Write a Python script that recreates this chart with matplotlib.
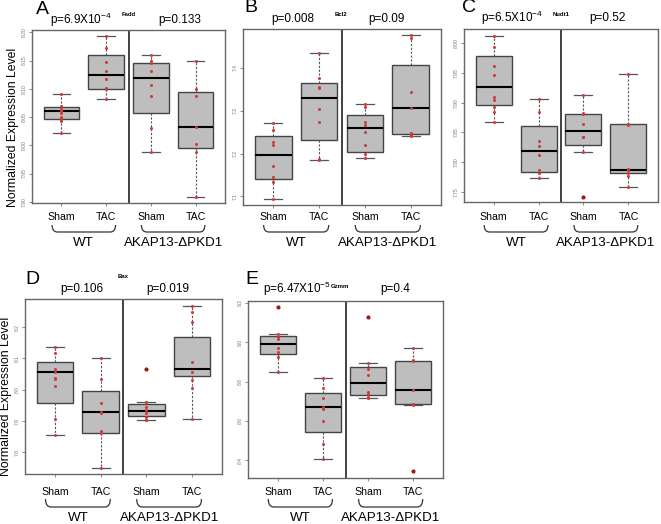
import numpy as np
import matplotlib
matplotlib.use('Agg')
import matplotlib.pyplot as plt
import matplotlib.transforms as mtransforms
from matplotlib.path import Path
from matplotlib.patches import PathPatch

plt.rcParams['font.family'] = ['Liberation Sans', 'DejaVu Sans']
plt.rcParams['mathtext.fontset'] = 'custom'
plt.rcParams['mathtext.rm'] = 'Liberation Sans'
plt.rcParams['mathtext.default'] = 'regular'

groups = ['Sham', 'TAC', 'Sham', 'TAC']
strains = ['WT', 'AKAP13-ΔPKD1']

# ---- data (points, box stats = whislo, q1, med, q3, whishi) ----
# A - Fadd
fadd_pts = [[8.090, 8.069, 8.066, 8.063, 8.060, 8.058, 8.051, 8.049, 8.045, 8.043, 8.021],
            [8.194, 8.172, 8.148, 8.132, 8.117, 8.101, 8.099, 8.082],
            [8.159, 8.150, 8.146, 8.132, 8.107, 8.087, 8.030, 7.988],
            [8.149, 8.099, 8.088, 8.033, 8.002, 7.989, 7.908]]
fadd_box = [(8.021, 8.047, 8.061, 8.068, 8.090),
            (8.082, 8.099, 8.124, 8.160, 8.194),
            (7.988, 8.058, 8.119, 8.146, 8.159),
            (7.908, 7.996, 8.033, 8.094, 8.149)]
fadd_out = [[], [], [], []]
fadd_p = [r'p=6.9X10$^{-4}$', 'p=0.133']

# B - Bcl2
bcl2_pts = [[7.271, 7.254, 7.228, 7.220, 7.172, 7.146, 7.134, 7.095],
            [7.434, 7.376, 7.355, 7.354, 7.305, 7.274, 7.188, 7.185],
            [7.315, 7.309, 7.274, 7.266, 7.250, 7.219, 7.199, 7.189],
            [7.476, 7.471, 7.345, 7.306, 7.249, 7.244, 7.240]]
bcl2_box = [(7.095, 7.140, 7.196, 7.240, 7.271),
            (7.185, 7.231, 7.330, 7.366, 7.434),
            (7.189, 7.203, 7.259, 7.290, 7.315),
            (7.240, 7.245, 7.306, 7.407, 7.477)]
bcl2_out = [[], [], [], []]
bcl2_p = ['p=0.008', 'p=0.09']

# C - Nudt1
nudt1_pts = [[8.013, 7.994, 7.961, 7.946, 7.909, 7.904, 7.893, 7.884, 7.867],
             [7.907, 7.885, 7.836, 7.828, 7.812, 7.787, 7.782, 7.774],
             [7.913, 7.882, 7.881, 7.864, 7.843, 7.842, 7.817],
             [7.949, 7.865, 7.863, 7.789, 7.786, 7.782, 7.777, 7.759]]
nudt1_box = [(7.867, 7.897, 7.927, 7.978, 8.013),
             (7.774, 7.784, 7.819, 7.860, 7.907),
             (7.817, 7.829, 7.853, 7.881, 7.913),
             (7.759, 7.782, 7.787, 7.864, 7.949)]
nudt1_out = [[], [], [7.742], []]
nudt1_p = [r'p=6.5X10$^{-4}$', 'p=0.52']

# D - Bax
bax_pts = [[8.136, 8.118, 8.065, 8.056, 8.037, 8.033, 8.012, 7.907, 7.855],
           [8.101, 8.036, 7.959, 7.929, 7.925, 7.869, 7.863, 7.749],
           [7.960, 7.944, 7.935, 7.925, 7.914, 7.905, 7.902],
           [8.268, 8.249, 8.218, 8.090, 8.057, 8.031, 8.005, 7.906]]
bax_box = [(7.855, 7.959, 8.056, 8.089, 8.136),
           (7.749, 7.863, 7.929, 7.996, 8.101),
           (7.902, 7.915, 7.933, 7.954, 7.960),
           (7.906, 8.045, 8.067, 8.168, 8.268)]
bax_out = [[], [], [8.066], []]
bax_p = ['p=0.106', 'p=0.019']

# E - Gzmm
gzmm_pts = [[9.041, 9.028, 9.014, 8.969, 8.949, 8.925, 8.851],
            [8.817, 8.770, 8.717, 8.670, 8.662, 8.601, 8.483, 8.407],
            [8.896, 8.862, 8.834, 8.749, 8.736, 8.724, 8.716],
            [8.969, 8.910, 8.903, 8.758, 8.687, 8.680]]
gzmm_box = [(8.851, 8.938, 8.989, 9.030, 9.041),
            (8.407, 8.542, 8.670, 8.741, 8.817),
            (8.716, 8.731, 8.792, 8.876, 8.896),
            (8.680, 8.684, 8.758, 8.905, 8.969)]
gzmm_out = [[9.180], [], [9.126], [8.344]]
gzmm_p = [r'p=6.47X10$^{-5}$', 'p=0.4']

W, H = 661, 524
fig = plt.figure(figsize=(W / 100, H / 100), dpi=100)


def fx(x):
    return x / W


def fy(y):
    return 1 - y / H


def draw_panel(frame, pts, box, out, ylim, yticks, yfmt, gene, gene_xy, letter, letter_xy,
               pvals, p_xy, rows_y):
    l, t, r, b = frame
    ax = fig.add_axes([fx(l), fy(b), (r - l) / W, (b - t) / H])
    stats = [dict(whislo=s[0], q1=s[1], med=s[2], q3=s[3], whishi=s[4], fliers=[]) for s in box]
    ax.bxp(stats, positions=[1, 2, 3, 4], widths=0.8, capwidths=0.4, patch_artist=True,
           showfliers=False,
           boxprops=dict(facecolor='#bebebe', edgecolor='#444444', linewidth=1),
           medianprops=dict(color='black', linewidth=1.5),
           whiskerprops=dict(color='#555555', linestyle=(0, (2, 1.5)), linewidth=0.8),
           capprops=dict(color='#555555', linewidth=0.9))
    for i, p in enumerate(pts):
        ax.plot(np.full(len(p), i + 1), p, 'o', ms=2.2, color='#d23a3a', mec='none', zorder=4)
    for i, o in enumerate(out):
        if o:
            ax.plot(np.full(len(o), i + 1), o, 'o', ms=3, color='#9b1b1b', mec='none', zorder=4)
    ax.axvline(2.5, color='#333333', lw=1.3)
    ax.set_xlim(0.34, 4.66)
    ax.set_ylim(*ylim)
    ax.set_xticks([1, 2, 3, 4])
    ax.set_xticklabels([])
    ax.set_yticks(yticks)
    ax.set_yticklabels([yfmt % v for v in yticks])
    for sp in ax.spines.values():
        sp.set_color('#666666')
        sp.set_linewidth(1)
    ax.tick_params(axis='both', direction='out', length=2.5, width=0.6, colors='#777777',
                   labelsize=3.6, pad=1.5)
    for lab in ax.get_yticklabels():
        lab.set_rotation(90)
        lab.set_va('center')

    trans = mtransforms.blended_transform_factory(ax.transData, fig.transFigure)
    for i, g in enumerate(groups):
        ax.text(i + 1, fy(rows_y[0]), g, transform=trans, ha='center', va='center',
                fontsize=7.6)
    for j, s in enumerate(strains):
        x0, x1 = 2 * j + 1 - 0.21, 2 * j + 2 + 0.21
        yt, yb = fy(rows_y[1]), fy(rows_y[2])
        verts = [(x0, yt), (x0, yb), (x0 + 0.12, yb), (x1 - 0.12, yb), (x1, yb), (x1, yt)]
        codes = [Path.MOVETO, Path.CURVE3, Path.CURVE3, Path.LINETO, Path.CURVE3, Path.CURVE3]
        fig.add_artist(PathPatch(Path(verts, codes), transform=trans, fill=False,
                                 lw=0.9, edgecolor='#333333'))
        ax.text(2 * j + 1.5, fy(rows_y[3]), s, transform=trans, ha='center', va='center',
                fontsize=9.6)

    fig.text(fx(gene_xy[0]), fy(gene_xy[1]), gene, ha='center', va='center',
             fontsize=4.3, fontweight='bold')
    fig.text(fx(letter_xy[0]), fy(letter_xy[1]), letter, ha='center', va='center', fontsize=14)
    for pv, (px, py) in zip(pvals, p_xy):
        fig.text(fx(px), fy(py), pv, ha='center', va='center', fontsize=8.5)
    return ax


top_rows = (217, 225, 232, 243)
bot_rows = (492, 499, 507, 518)

draw_panel((32, 30, 225, 203), fadd_pts, fadd_box, fadd_out, (7.898, 8.204),
           [7.90, 7.95, 8.00, 8.05, 8.10, 8.15, 8.20], '%.2f', 'Fadd', (129, 15), 'A', (42, 9),
           fadd_p, [(81, 20), (180, 20)], top_rows)
draw_panel((243, 29, 441, 205), bcl2_pts, bcl2_box, bcl2_out, (7.080, 7.491),
           [7.1, 7.2, 7.3, 7.4], '%.1f', 'Bcl2', (341, 15), 'B', (251, 8),
           bcl2_p, [(293, 19), (386, 19)], top_rows)
draw_panel((464, 29, 658, 202), nudt1_pts, nudt1_box, nudt1_out, (7.733, 8.024),
           [7.75, 7.80, 7.85, 7.90, 7.95, 8.00], '%.2f', 'Nudt1', (561, 15), 'C', (469, 8),
           nudt1_p, [(512, 18), (607, 18)], top_rows)
draw_panel((25, 299, 222, 474), bax_pts, bax_box, bax_out, (7.731, 8.290),
           [7.8, 7.9, 8.0, 8.1, 8.2], '%.1f', 'Bax', (123, 277), 'D', (32, 279),
           bax_p, [(82, 289), (168, 289)], bot_rows)
draw_panel((248, 301, 443, 478), gzmm_pts, gzmm_box, gzmm_out, (8.311, 9.209),
           [8.4, 8.6, 8.8, 9.0, 9.2], '%.1f', 'Gzmm', (340, 287), 'E', (252, 279),
           gzmm_p, [(297, 289), (395, 289)], bot_rows)

fig.text(fx(13), fy(127), 'Normalized Expression Level', rotation=90, ha='center',
         va='center', fontsize=8.8)
fig.text(fx(6), fy(396), 'Normalized Expression Level', rotation=90, ha='center',
         va='center', fontsize=8.8)

fig.savefig('out.png', dpi=100)
